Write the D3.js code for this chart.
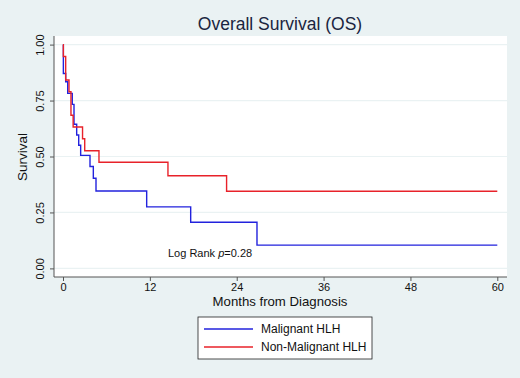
<!DOCTYPE html>
<html>
<head>
<meta charset="utf-8">
<script src="https://cdn.jsdelivr.net/npm/d3@7"></script>
<style>
  body { margin: 0; background: #eaf2f3; }
  svg { display: block; font-family: "Liberation Sans", Arial, sans-serif; }
</style>
</head>
<body>
<svg id="chart" width="520" height="378"></svg>
<script>
// Kaplan-Meier step points: [month, survival]
const malignant = [
  [0, 1.0], [0.05, 0.871], [0.37, 0.834], [0.65, 0.782], [1.28, 0.733],
  [1.52, 0.644], [1.89, 0.596], [2.17, 0.55], [2.44, 0.505], [3.73, 0.455],
  [4.19, 0.403], [4.56, 0.346], [11.56, 0.275], [17.64, 0.206], [26.8, 0.104],
  [60, 0.104]
];
const nonMalignant = [
  [0, 1.0], [0.05, 0.947], [0.37, 0.842], [0.83, 0.789], [1.1, 0.684],
  [1.4, 0.632], [2.7, 0.579], [3.0, 0.526], [4.97, 0.474], [14.5, 0.414],
  [22.6, 0.345], [60, 0.345]
];
const seriesNames = ["Malignant HLH", "Non-Malignant HLH"];
const seriesColors = ["#2222dd", "#e8222a"];
const xTicks = [0, 12, 24, 36, 48, 60];
const yTicks = [0, 0.25, 0.5, 0.75, 1];

const svg = d3.select("#chart");
const W = 520, H = 378;

svg.append("rect").attr("width", W).attr("height", H).attr("fill", "#eaf2f3");

// plot region
const region = { x0: 54, x1: 507, y0: 36, y1: 277 };
svg.append("rect")
  .attr("x", region.x0).attr("y", region.y0)
  .attr("width", region.x1 - region.x0).attr("height", region.y1 - region.y0)
  .attr("fill", "#fff");

const x = d3.scaleLinear().domain([0, 60]).range([63, 497.3]);
const y = d3.scaleLinear().domain([0, 1]).range([268.4, 44.6]);

// gridlines
svg.append("g").selectAll("line").data(yTicks).join("line")
  .attr("x1", region.x0).attr("x2", region.x1)
  .attr("y1", d => y(d)).attr("y2", d => y(d))
  .attr("stroke", "#eaf2f3").attr("stroke-width", 1.2);

// axes
const xAxis = svg.append("g")
  .attr("transform", `translate(0,${region.y1})`)
  .call(d3.axisBottom(x).tickValues(xTicks).tickSize(4).tickPadding(2).tickFormat(d3.format("d")));
xAxis.select(".domain").attr("d", `M${region.x0},0H${region.x1}`);

const yAxis = svg.append("g")
  .attr("transform", `translate(${region.x0},0)`)
  .call(d3.axisLeft(y).tickValues(yTicks).tickSize(4).tickPadding(3).tickFormat(d3.format(".2f")));
yAxis.select(".domain").attr("d", `M0,${region.y0}V${region.y1}`);
yAxis.selectAll(".tick text")
  .attr("text-anchor", "middle")
  .attr("transform", "rotate(-90)")
  .attr("x", 0).attr("dx", 0).attr("dy", 0)
  .attr("y", -10);

[xAxis, yAxis].forEach(a => {
  a.selectAll(".domain, .tick line").attr("stroke", "#555").attr("stroke-width", 1);
  a.selectAll(".tick text").attr("fill", "#111").attr("font-size", 11)
    .attr("font-family", "Liberation Sans, Arial, sans-serif");
});

// KM curves
const line = d3.line().curve(d3.curveStepAfter).x(d => x(d[0])).y(d => y(d[1]));
[malignant, nonMalignant].forEach((s, i) => {
  svg.append("path").datum(s)
    .attr("d", line)
    .attr("fill", "none")
    .attr("stroke", seriesColors[i])
    .attr("stroke-width", 1.4);
});

// title and labels
svg.append("text").attr("x", 280).attr("y", 30).attr("text-anchor", "middle")
  .attr("font-size", 17.5).attr("fill", "#1a2540").text("Overall Survival (OS)");
svg.append("text").attr("x", 280).attr("y", 306).attr("text-anchor", "middle")
  .attr("font-size", 13.2).attr("fill", "#111").text("Months from Diagnosis");
svg.append("text").attr("transform", "translate(27,157) rotate(-90)")
  .attr("text-anchor", "middle").attr("font-size", 13.5).attr("fill", "#111").text("Survival");

const note = svg.append("text").attr("x", 168).attr("y", 257)
  .attr("font-size", 11).attr("fill", "#111");
note.append("tspan").text("Log Rank ");
note.append("tspan").attr("font-style", "italic").text("p");
note.append("tspan").text("=0.28");

// legend
const lg = svg.append("g");
lg.append("rect").attr("x", 198).attr("y", 317).attr("width", 174).attr("height", 42)
  .attr("fill", "#fff").attr("stroke", "#222").attr("stroke-width", 0.8);
seriesNames.forEach((n, i) => {
  const ly = 329 + i * 18;
  lg.append("line").attr("x1", 204).attr("x2", 253).attr("y1", ly).attr("y2", ly)
    .attr("stroke", seriesColors[i]).attr("stroke-width", 1.4);
  lg.append("text").attr("x", 261).attr("y", ly + 4).attr("font-size", 12)
    .attr("fill", "#111").text(n);
});
</script>
</body>
</html>
